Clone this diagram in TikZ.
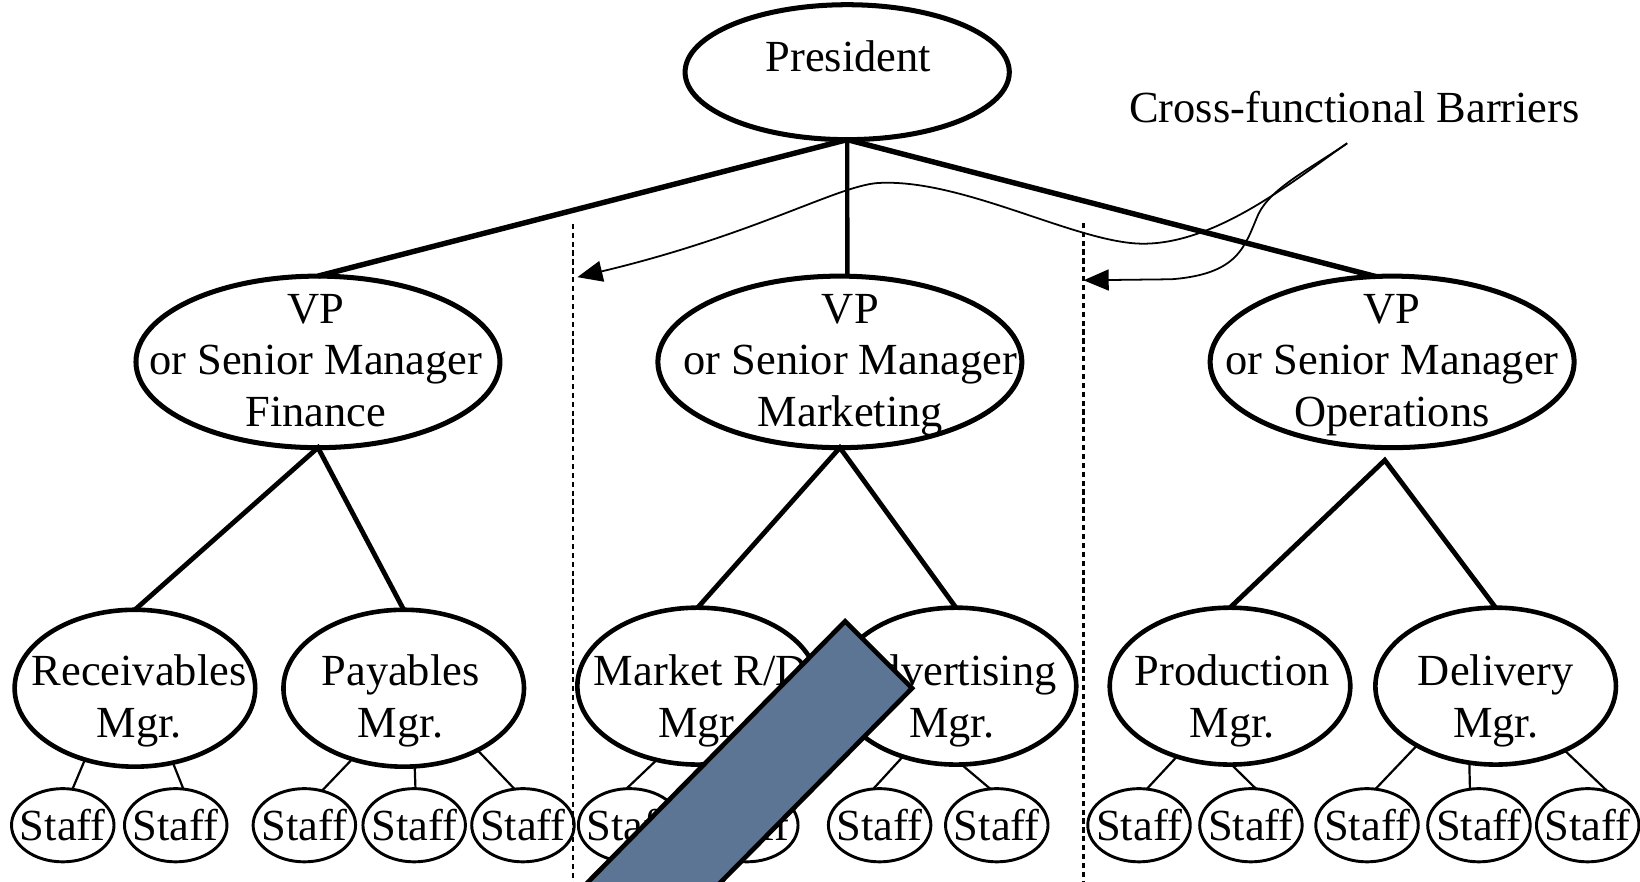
\documentclass[tikz,border=0pt]{standalone}
\usepackage{fontspec}
\setmainfont{Liberation Serif}
\usetikzlibrary{shapes.geometric,arrows.meta}
\definecolor{barblue}{RGB}{92,117,148}
\begin{document}
\begin{tikzpicture}[x=1pt,y=-1pt,
  every node/.style={inner sep=0pt, outer sep=0pt},
  txt/.style={font=\fontsize{42.5pt}{49.5pt}\selectfont},
  lbl/.style={txt, align=center},
  oval/.style={ellipse, draw, line width=#1},
  presoval/.style={oval=4.8pt, minimum width=310pt, minimum height=129pt},
  bigoval/.style={oval=4.8pt, minimum width=348pt, minimum height=164pt},
  mgroval/.style={oval=4.4pt, minimum width=230pt, minimum height=150pt},
  staffoval/.style={oval=2.8pt, txt, minimum width=98pt, minimum height=70pt},
  trunk/.style={line width=5.2pt},
  branch/.style={line width=4.6pt, line join=miter},
  twig/.style={line width=2.1pt},
  barrier/.style={dash pattern=on 5pt off 3.5pt, line width=2.3pt},
  flow/.style={line width=1.7pt, -{Triangle[length=24pt,width=20pt]}},
  blocker/.style={fill=barblue, draw=black, line width=4.5pt, line join=miter},
]
\useasboundingbox (0,0) rectangle (1568,843);
\clip (0,0) rectangle (1568,843);
\fill[white] (0,0) rectangle (1568,843);

% ---- top level
\node[presoval] (pres) at (810,69) {};
\node[txt, anchor=base] (presT) at (811,68.5) {President};
\node[txt, anchor=base] (cfbT) at (1295,117) {Cross-functional Barriers};

% ---- VPs
\node[bigoval] (vpf) at (304,346) {};
\node[bigoval] (vpm) at (803,346) {};
\node[bigoval] (vpo) at (1331,346) {};
\node[lbl, anchor=north] (vpfT) at (302,281) {VP\\or Senior Manager\\Finance};
\node[lbl, anchor=north] (vpmT) at (813,281) {VP\\or Senior Manager\\Marketing};
\node[lbl, anchor=north] (vpoT) at (1331,281) {VP\\or Senior Manager\\Operations};

% ---- managers
\node[mgroval] (rec)  at (129,658) {};
\node[mgroval] (pay)  at (386,658) {};
\node[mgroval] (mrd)  at (667,656) {};
\node[mgroval] (adv)  at (914,656) {};
\node[mgroval] (prod) at (1176,656) {};
\node[mgroval] (del)  at (1430,656) {};
\node[lbl, anchor=north] (recT)  at (133,626) {Receivables\\Mgr.};
\node[lbl, anchor=north] (payT)  at (383,626) {Payables\\Mgr.};
\node[lbl, anchor=north] (mrdT)  at (670,626) {Market R/D\\Mgr.};
\node[lbl, anchor=north] (advT)  at (910,626) {Advertising\\Mgr.};
\node[lbl, anchor=north] (prodT) at (1178,626) {Production\\Mgr.};
\node[lbl, anchor=north] (delT)  at (1430,626) {Delivery\\Mgr.};

% ---- staff
\node[staffoval] (rs1)  at (60,789)   {\makebox[0pt]{Staff}};
\node[staffoval] (rs2)  at (168,789)  {\makebox[0pt]{Staff}};
\node[staffoval] (ps1)  at (291,789)  {\makebox[0pt]{Staff}};
\node[staffoval] (ps2)  at (396,789)  {\makebox[0pt]{Staff}};
\node[staffoval] (ps3)  at (500,789)  {\makebox[0pt]{Staff}};
\node[staffoval] (ms1)  at (602,789)  {\makebox[0pt]{Staff}};
\node[staffoval] (ms2)  at (714,789)  {\makebox[0pt]{Staff}};
\node[staffoval] (as1)  at (841,789)  {\makebox[0pt]{Staff}};
\node[staffoval] (as2)  at (953,789)  {\makebox[0pt]{Staff}};
\node[staffoval] (prs1) at (1089,789) {\makebox[0pt]{Staff}};
\node[staffoval] (prs2) at (1196,789) {\makebox[0pt]{Staff}};
\node[staffoval] (ds1)  at (1307,789) {\makebox[0pt]{Staff}};
\node[staffoval] (ds2)  at (1414,789) {\makebox[0pt]{Staff}};
\node[staffoval] (ds3)  at (1518,789) {\makebox[0pt]{Staff}};

% ---- barriers (dashed)
\coordinate (b1top) at (548,214);
\coordinate (b1bot) at (548,843);
\coordinate (b2top) at (1036,213);
\coordinate (b2bot) at (1036,843);
\draw[barrier] (b1top) -- (b1bot);
\draw[barrier] (b2top) -- (b2bot);

% ---- barrier callout arrows
\coordinate (cfb) at (1288,137);
\coordinate (tipL) at (552,265);
\coordinate (tipR) at (1036,268);
\draw[flow] (cfb) .. controls (1240,170) and (1165,233) .. (1093,233)
  .. controls (1030,233) and (920,170) .. (839,175)
  .. controls (800,178) and (720,225) .. (tipL);
\draw[flow] (cfb) .. controls (1250,163) and (1215,180) .. (1203,205)
  .. controls (1190,235) and (1185,262) .. (1120,267) -- (tipR);

% ---- trunk connectors
\draw[trunk] (pres.south) -- (vpf.north);
\draw[trunk, line width=4.2pt] (pres.south) -- (vpm.85);
\draw[trunk] (pres.south) -- (vpo.101);

% ---- branch connectors
\coordinate (opsapex) at (1324,440);
\draw[branch] (rec.north) -- (vpf.south) -- (pay.north);
\draw[branch] (mrd.north) -- (vpm.south) -- (adv.north);
\draw[branch] (prod.north) -- (opsapex) -- (del.north);

% ---- twigs to staff
\draw[twig] (rec.235) -- (rs1.75);
\draw[twig] (rec.297) -- (rs2.78);
\draw[twig] (pay.234) -- (ps1.63);
\draw[twig] (pay.278) -- (ps2.88);
\draw[twig] (pay.320) -- (ps3.103);
\draw[twig] (mrd.241) -- (ms1.95);
\draw[twig] (mrd.295) -- (ms2.80);
\draw[twig] (adv.233) -- (as1.100);
\draw[twig] (adv.274) -- (as2.100);
\draw[twig] (prod.233) -- (prs1.78);
\draw[twig] (prod.271) -- (prs2.82);
\draw[twig] (del.217) -- (ds1.77);
\draw[twig] (del.251) -- (ds2.104);
\draw[twig] (del.317) -- (ds3.59);

% ---- overlay bar
\fill[blocker] (808,594) -- (872,658) -- (659,874) -- (532,874) -- cycle;
\end{tikzpicture}
\end{document}
